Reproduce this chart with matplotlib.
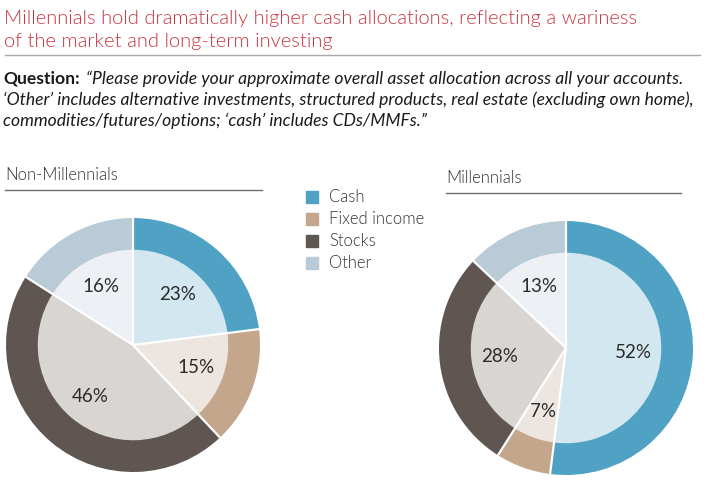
import numpy as np
import matplotlib.pyplot as plt

plt.rcParams['font.family'] = ['Lato', 'DejaVu Sans']

# Datos
categorias = ['Cash', 'Fixed income', 'Stocks', 'Other']
no_millennials = [23, 15, 46, 16]
millennials = [52, 7, 28, 13]

colores_fuera = ['#4fa2c3', '#c4a68c', '#5f5651', '#b8cbd7']
colores_dentro = ['#d2e7f0', '#ede6e0', '#d9d5d3', '#edf0f4']

titulo_1 = 'Millennials hold dramatically higher cash allocations, reflecting a wariness'
titulo_2 = 'of the market and long-term investing'
pregunta_1 = '\u201cPlease provide your approximate overall asset allocation across all your accounts.'
pregunta_2 = '\u2018Other\u2019 includes alternative investments, structured products, real estate (excluding own home),'
pregunta_3 = 'commodities/futures/options; \u2018cash\u2019 includes CDs/MMFs.\u201d'

W, H = 710, 488
fig = plt.figure(figsize=(W/100, H/100), dpi=100)
fig.patch.set_facecolor('white')


def texto(x, y, s, **kw):
    # x, y en pixeles desde arriba a la izquierda (y = linea base)
    return fig.text(x/W, 1 - y/H, s, va='baseline', ha='left', **kw)


# Titulo y pregunta
texto(4, 24, titulo_1, color='#c8343f', fontsize=14.5, fontweight=300)
texto(4, 47, titulo_2, color='#c8343f', fontsize=14.5, fontweight=300)
fig.add_artist(plt.Line2D([5/W, 700/W], [1 - 55/H, 1 - 55/H], color='#a8a8a8', lw=1))
texto(3, 84, 'Question:', fontsize=12.6, fontweight='bold', color='#1a1a1a')
texto(86, 84, pregunta_1, fontsize=12.6, style='italic', color='#1a1a1a')
texto(3, 105, pregunta_2, fontsize=12.6, style='italic', color='#1a1a1a')
texto(3, 126, pregunta_3, fontsize=12.6, style='italic', color='#1a1a1a')


def dona(cx, cy, valores, subtitulo, x0, x1, ysub):
    R = 127
    lado = 2 * R + 6
    ax = fig.add_axes([(cx - lado/2)/W, (H - cy - lado/2)/H, lado/W, lado/H])
    ax.pie(valores, colors=colores_fuera, startangle=90, counterclock=False, radius=1.0)
    ax.pie(valores, colors=colores_dentro, startangle=90, counterclock=False, radius=0.75)
    acum = np.cumsum([0] + valores)
    for a in acum[:-1]:
        ang = np.deg2rad(90 - a * 3.6)
        ax.plot([0, np.cos(ang)], [0, np.sin(ang)], color='white', lw=1.6,
                solid_capstyle='butt')
    for i, v in enumerate(valores):
        ang = np.deg2rad(90 - (acum[i] + v / 2) * 3.6)
        ax.text(0.53 * np.cos(ang), 0.53 * np.sin(ang), f'{v}%', ha='center', va='center',
                fontsize=13.5, color='#2b2b2b')
    lim = lado / 2 / R
    ax.set_xlim(-lim, lim)
    ax.set_ylim(-lim, lim)
    ax.set_aspect('equal')
    ax.axis('off')
    texto(x0, ysub, subtitulo, fontsize=12, color='#333333', fontweight=300)
    fig.add_artist(plt.Line2D([x0/W, x1/W], [1 - (ysub + 10)/H, 1 - (ysub + 10)/H],
                              color='#6e6e6e', lw=1))


dona(133, 345, no_millennials, 'Non-Millennials', 5, 262, 180)
dona(566, 348, millennials, 'Millennials', 446, 681, 183)

# Leyenda
for i, c in enumerate(categorias):
    y = 197 + 22 * i
    fig.patches.append(plt.Rectangle((306/W, 1 - (y + 6)/H), 12/W, 12/H,
                                     transform=fig.transFigure, color=colores_fuera[i]))
    fig.text(329/W, 1 - y/H, c, fontsize=12, color='#333333', va='center', ha='left',
             fontweight=300)

fig.savefig('out.png', dpi=100)
